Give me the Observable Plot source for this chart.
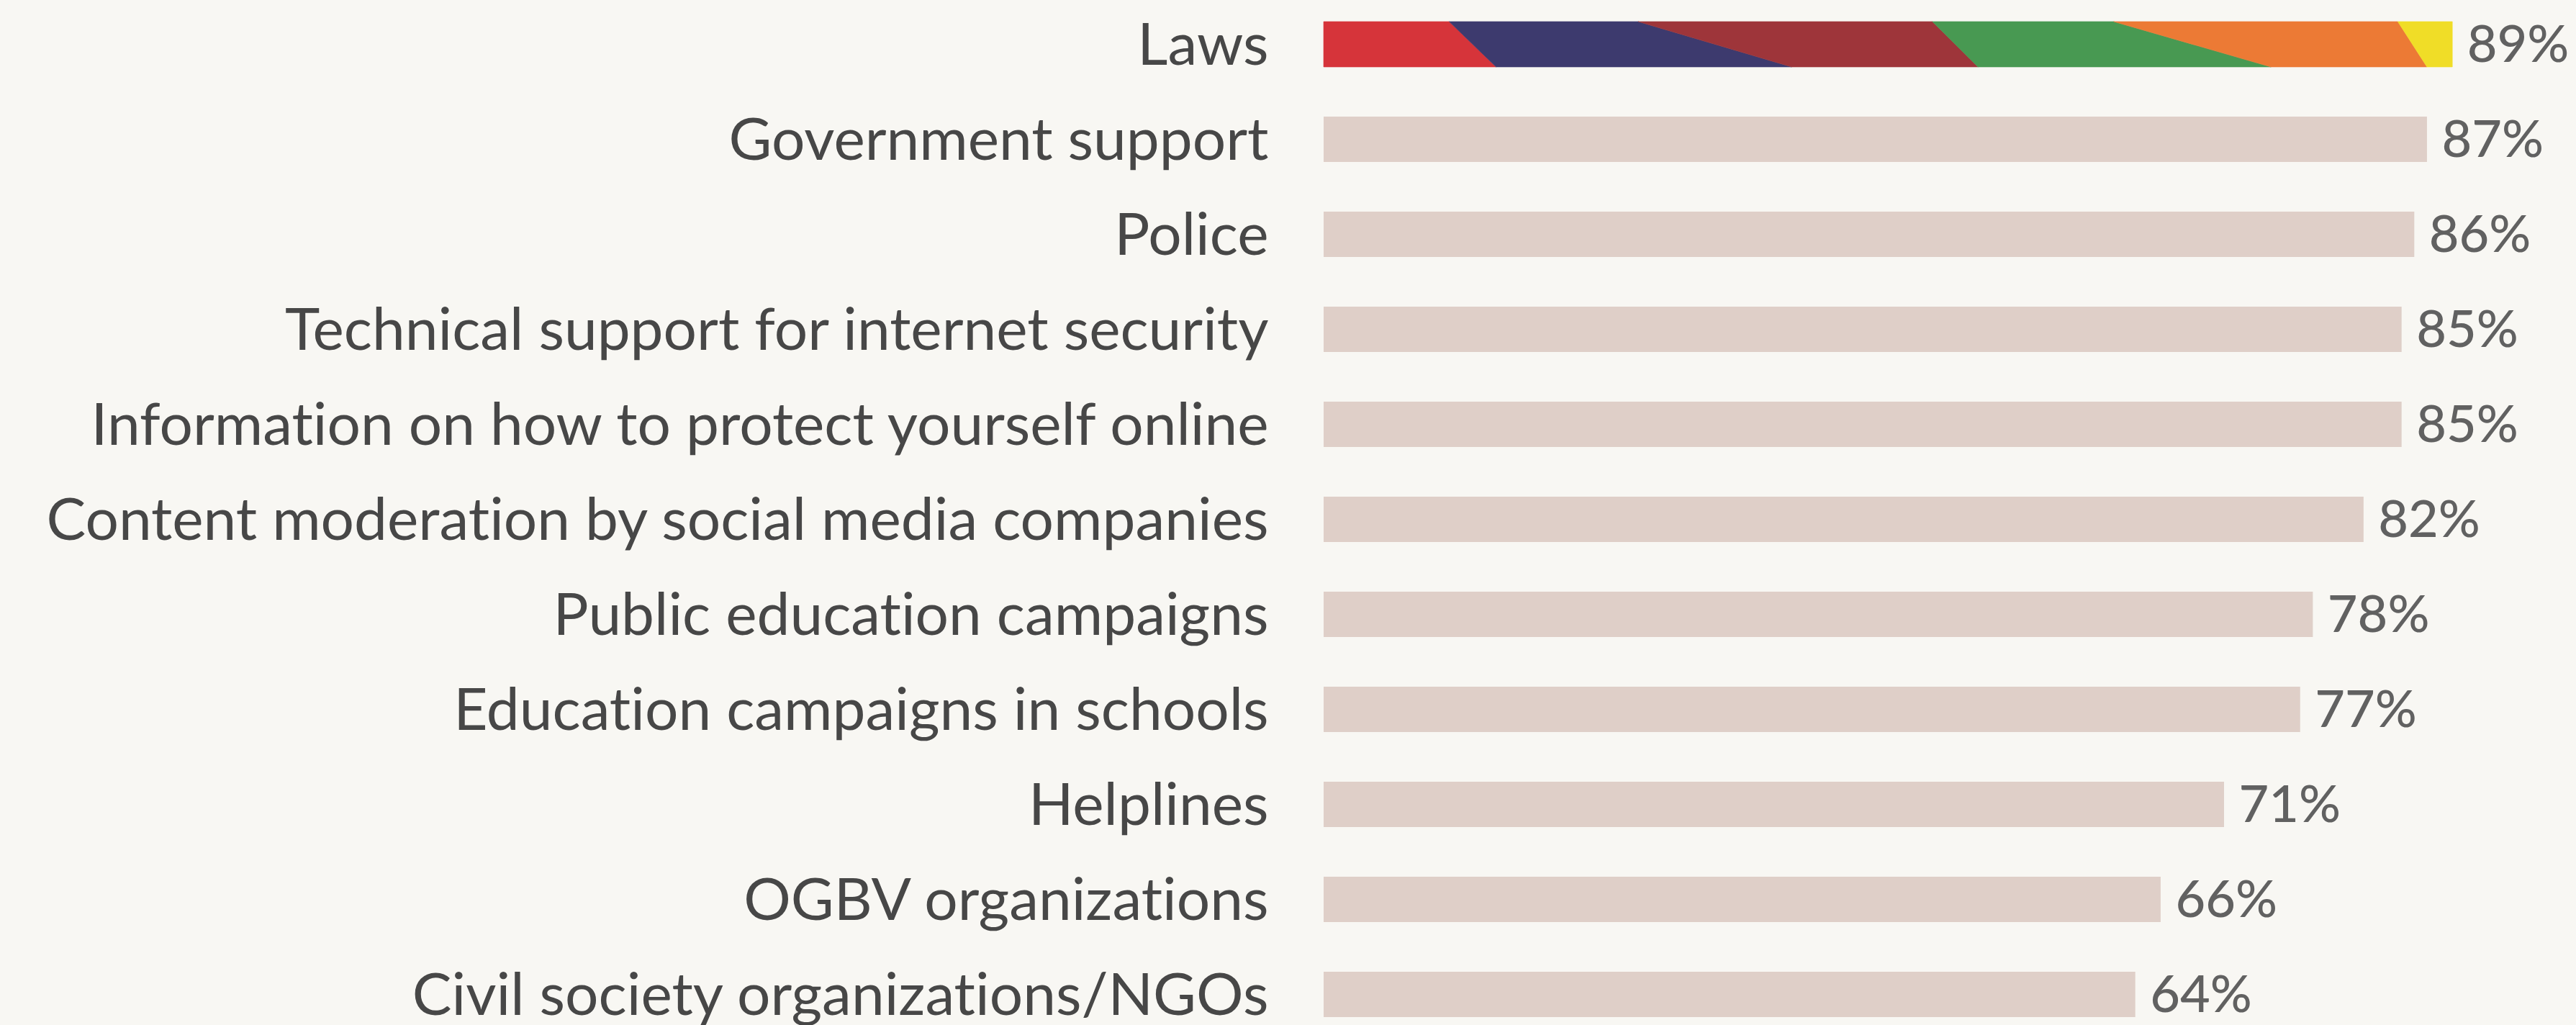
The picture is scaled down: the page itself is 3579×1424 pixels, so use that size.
<!DOCTYPE html>
<html>
<head>
<meta charset="utf-8">
<script src="https://cdn.jsdelivr.net/npm/d3@7"></script>
<script src="https://cdn.jsdelivr.net/npm/@observablehq/plot@0.6"></script>
<style>
  html, body { margin: 0; padding: 0; background: #f8f7f3; }
  #chart svg { display: block; font-variant-ligatures: none; }
</style>
</head>
<body>
<div id="chart"></div>
<script>
const categories = [
  "Laws",
  "Government support",
  "Police",
  "Technical support for internet security",
  "Information on how to protect yourself online",
  "Content moderation by social media companies",
  "Public education campaigns",
  "Education campaigns in schools",
  "Helplines",
  "OGBV organizations",
  "Civil society organizations/NGOs"
];
const values = [89, 87, 86, 85, 85, 82, 78, 77, 71, 66, 64];

// Pride-style stripes of the highlighted "Laws" bar (boundaries in % units, at bar top and bar bottom)
const lawsColors = ["#d6343a", "#3d3a6e", "#9e353a", "#489952", "#ec7a35", "#f0dd27"];
const lawsStripeTop = [9.9, 24.8, 48.0, 62.3, 84.7];
const lawsStripeBottom = [13.6, 36.9, 51.6, 74.7, 87.0];

const rows = categories.map((c, i) => ({category: c, value: values[i]}));
const highlighted = rows.filter(d => d.category === "Laws");
const others = rows.filter(d => d.category !== "Laws");

const chart = Plot.plot({
  width: 3579,
  height: 1424,
  marginTop: 29,
  marginBottom: 10,
  marginLeft: 0,
  marginRight: 0,
  style: {background: "#f8f7f3", fontFamily: "Lato, sans-serif"},
  x: {domain: [0, 100], range: [1839, 3601], axis: null},
  y: {domain: categories, paddingInner: 0.526, paddingOuter: 0, axis: null},
  marks: [
    Plot.barX(others, {x: "value", y: "category", fill: "#dfcfc8"}),
    Plot.barX(highlighted, {
      x: "value",
      y: "category",
      fill: "#d6343a",
      render(index, scales, vals, dimensions, context) {
        const x = scales.x;
        const y = scales.y;
        const bw = typeof y.bandwidth === "function" ? y.bandwidth() : scales.scales.y.bandwidth;
        const g = d3.create("svg:g");
        for (const i of index) {
          const d = highlighted[i];
          const y0 = y(d.category), y1 = y0 + bw;
          const tops = [0, ...lawsStripeTop, d.value];
          const bots = [0, ...lawsStripeBottom, d.value];
          lawsColors.forEach((color, k) => {
            const pts = [
              [x(tops[k]), y0], [x(tops[k + 1]), y0],
              [x(bots[k + 1]), y1], [x(bots[k]), y1]
            ];
            g.append("path")
              .attr("d", "M" + pts.map(p => p.join(",")).join("L") + "Z")
              .attr("fill", color)
              .attr("stroke", color)
              .attr("stroke-width", 0.6);
          });
        }
        return g.node();
      }
    }),
    Plot.text(rows, {
      x: 0, y: "category", text: "category", textAnchor: "end", dx: -77, dy: 2,
      fontSize: 82, fill: "#474747"
    }),
    Plot.text(rows, {
      x: "value", y: "category", text: d => d.value + "%", textAnchor: "start", dx: 20, dy: 1,
      fontSize: 72, fill: "#616161", fontWeight: 500
    })
  ]
});
document.getElementById("chart").append(chart);
</script>
</body>
</html>
